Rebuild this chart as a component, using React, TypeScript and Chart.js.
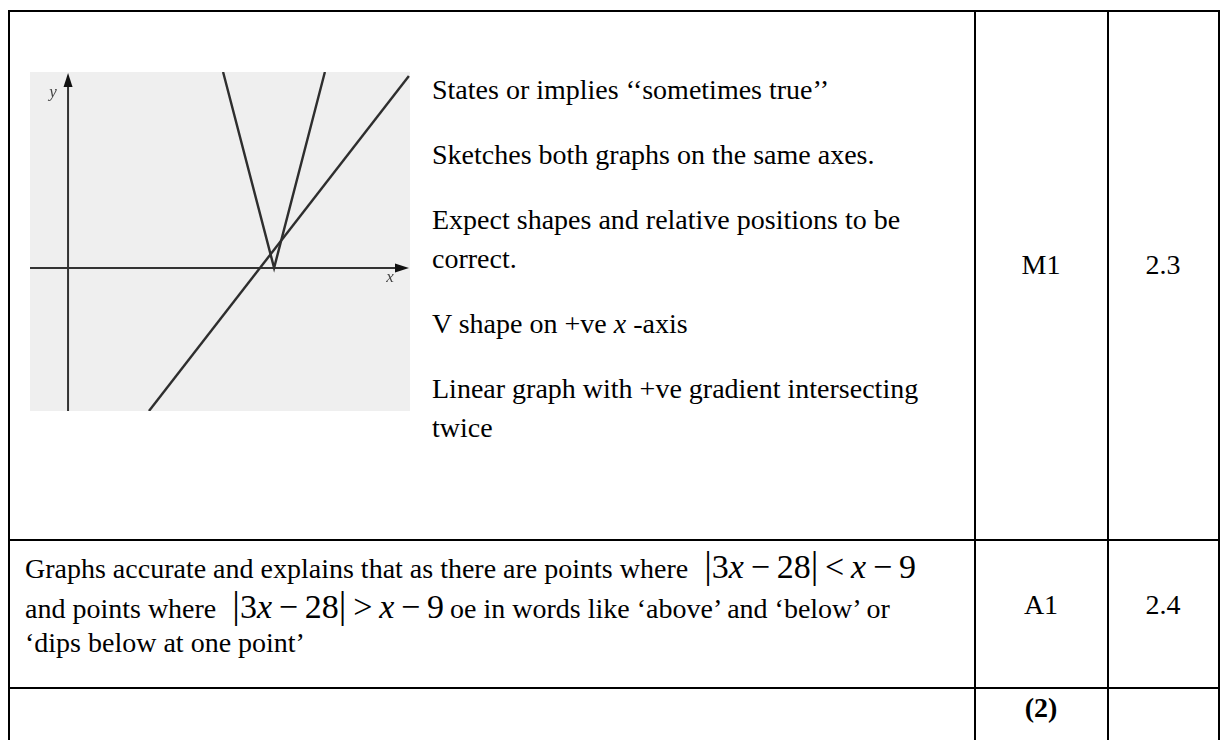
import React, { useEffect, useRef } from "react";
import { Chart, registerables } from "chart.js";

Chart.register(...registerables);

// Axis ranges of the sketch (data units)
const xRange = [-1.73, 15.55];
const yRange = [-5.04, 6.9];

// V shape: y = |3x - 28| as sketched
const vShapeX = [7.05, 9.37, 11.68];
const vShapeY = [6.9, 0, 6.9];

// Straight line: y = x - 9 as sketched
const lineX = [3.68, 15.5];
const lineY = [-5.04, 6.76];

const axisLabels = ["x", "y"];

const toPoints = (xs: number[], ys: number[]) => xs.map((x, i) => ({ x, y: ys[i] }));

const sketchPlugin = {
  id: "sketchAxes",
  beforeDraw(chart: any) {
    const { ctx, chartArea } = chart;
    ctx.save();
    ctx.fillStyle = "#efefef";
    ctx.fillRect(chartArea.left, chartArea.top, chartArea.right - chartArea.left, chartArea.bottom - chartArea.top);
    ctx.restore();
  },
  beforeDatasetsDraw(chart: any) {
    const { ctx, chartArea, scales } = chart;
    const x0 = scales.x.getPixelForValue(0);
    const y0 = scales.y.getPixelForValue(0);
    ctx.save();
    ctx.strokeStyle = "#333";
    ctx.fillStyle = "#111";
    ctx.lineWidth = 2;
    // x axis
    ctx.beginPath();
    ctx.moveTo(chartArea.left, y0);
    ctx.lineTo(chartArea.right - 8, y0);
    ctx.stroke();
    ctx.beginPath();
    ctx.moveTo(chartArea.right - 1, y0);
    ctx.lineTo(chartArea.right - 15, y0 - 4.5);
    ctx.lineTo(chartArea.right - 15, y0 + 4.5);
    ctx.closePath();
    ctx.fill();
    // y axis
    ctx.beginPath();
    ctx.moveTo(x0, chartArea.bottom);
    ctx.lineTo(x0, chartArea.top + 8);
    ctx.stroke();
    ctx.beginPath();
    ctx.moveTo(x0, chartArea.top + 1);
    ctx.lineTo(x0 - 4.5, chartArea.top + 15);
    ctx.lineTo(x0 + 4.5, chartArea.top + 15);
    ctx.closePath();
    ctx.fill();
    // labels
    ctx.fillStyle = "#444";
    ctx.font = 'italic 17px "Liberation Serif", serif';
    ctx.textAlign = "center";
    ctx.textBaseline = "middle";
    ctx.fillText(axisLabels[0], chartArea.right - 20, y0 + 10);
    ctx.fillText(axisLabels[1], x0 - 15, chartArea.top + 21);
    ctx.restore();
  },
};

const SketchChart = () => {
  const ref = useRef<HTMLCanvasElement>(null);
  useEffect(() => {
    if (!ref.current) return;
    const chart = new Chart(ref.current, {
      type: "scatter",
      data: {
        datasets: [
          {
            data: toPoints(vShapeX, vShapeY),
            showLine: true,
            borderColor: "#2e2e2e",
            borderWidth: 2.4,
            pointRadius: 0,
            tension: 0,
          },
          {
            data: toPoints(lineX, lineY),
            showLine: true,
            borderColor: "#2e2e2e",
            borderWidth: 2.4,
            pointRadius: 0,
            tension: 0,
          },
        ],
      },
      options: {
        responsive: false,
        animation: false,
        events: [],
        layout: { padding: 0 },
        plugins: { legend: { display: false }, tooltip: { enabled: false }, title: { display: false } },
        scales: {
          x: { type: "linear", min: xRange[0], max: xRange[1], display: false },
          y: { type: "linear", min: yRange[0], max: yRange[1], display: false },
        },
      },
      plugins: [sketchPlugin],
    });
    return () => chart.destroy();
  }, []);
  return <canvas ref={ref} width={380} height={339} style={{ display: "block", width: 380, height: 339 }} />;
};

const FONT = '"Liberation Serif", "Times New Roman", serif';

const Formula = ({ op }: { op: string }) => (
  <span style={{ fontSize: 34, marginLeft: 16, marginRight: 6 }}>
    <span style={{ fontSize: 38 }}>|</span>3<i>x</i>
    {"\u2009−\u2009"}28<span style={{ fontSize: 38 }}>|</span>
    {"\u2009" + op + "\u2009"}
    <i>x</i>
    {"\u2009−\u2009"}9
  </span>
);

const hLine = (top: number, left = 8, width = 1212) => (
  <div style={{ position: "absolute", left, top, width, height: 2, background: "#000" }} />
);
const vLine = (left: number, top = 10, height = 740) => (
  <div style={{ position: "absolute", left, top, width: 2, height, background: "#000" }} />
);

const Para = ({ children, mb = 26 }: { children: React.ReactNode; mb?: number }) => (
  <div style={{ lineHeight: "39px", marginBottom: mb, whiteSpace: "nowrap" }}>{children}</div>
);

const Centered = ({ cx, cy, children, bold = false }: { cx: number; cy: number; children: React.ReactNode; bold?: boolean }) => (
  <div
    style={{
      position: "absolute",
      left: cx - 60,
      top: cy - 20,
      width: 120,
      height: 40,
      lineHeight: "40px",
      textAlign: "center",
      fontWeight: bold ? "bold" : "normal",
    }}
  >
    {children}
  </div>
);

export default function App() {
  return (
    <div
      style={{
        position: "absolute",
        left: 0,
        top: 0,
        width: 1221,
        height: 740,
        overflow: "hidden",
        background: "#fff",
        fontFamily: FONT,
        fontSize: 28,
        color: "#000",
      }}
    >
      {hLine(10)}
      {hLine(539)}
      {hLine(687)}
      {vLine(8)}
      {vLine(974)}
      {vLine(1107)}
      {vLine(1218)}

      <div style={{ position: "absolute", left: 30, top: 72 }}>
        <SketchChart />
      </div>

      <div style={{ position: "absolute", left: 432, top: 70 }}>
        <Para>States or implies ‘‘sometimes true’’</Para>
        <Para>Sketches both graphs on the same axes.</Para>
        <Para>
          Expect shapes and relative positions to be
          <br />
          correct.
        </Para>
        <Para>
          V shape on +ve <i>x</i> -axis
        </Para>
        <Para mb={0}>
          Linear graph with +ve gradient intersecting
          <br />
          twice
        </Para>
      </div>

      <Centered cx={1041} cy={265}>M1</Centered>
      <Centered cx={1163} cy={265}>2.3</Centered>

      <div style={{ position: "absolute", left: 25, top: 545, whiteSpace: "nowrap" }}>
        <div style={{ height: 40, lineHeight: "40px" }}>
          Graphs accurate and explains that as there are points where
          <Formula op="<" />
        </div>
        <div style={{ height: 40, lineHeight: "40px" }}>
          and points where
          <Formula op=">" />
          oe in words like ‘above’ and ‘below’ or
        </div>
        <div style={{ height: 36, lineHeight: "36px" }}>‘dips below at one point’</div>
      </div>

      <Centered cx={1041} cy={605}>A1</Centered>
      <Centered cx={1163} cy={605}>2.4</Centered>

      <Centered cx={1041} cy={708} bold>
        (2)
      </Centered>
    </div>
  );
}
